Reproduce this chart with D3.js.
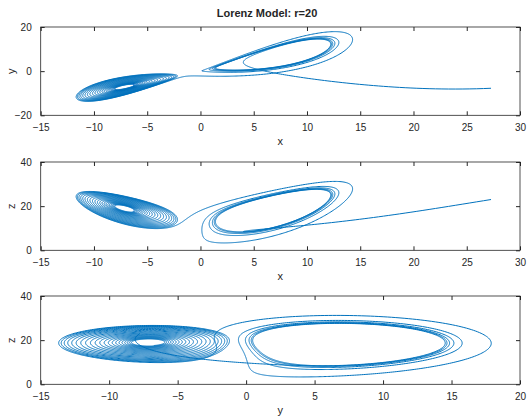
<!DOCTYPE html>
<html lang="en">
	<head>
		<meta charset="utf-8">
		<title> Lorenz Model </title>
		<script type="text/javascript" src="https://cdn.jsdelivr.net/npm/d3@7"></script>
		<style type="text/css">
			body { margin: 0; background: #fff; }
			text { font-family: "Liberation Sans", Arial, sans-serif; fill: #262626; }
		</style>
	</head>
	<body>
		<div id="chart"></div>
		<script type="text/javascript">

			// Model parameters read from the title (r) and the usual sigma, b
			var sigma = [10];
			var rho = [20];
			var beta = [8 / 3];
			var startState = [27.28, -7.75, 23];
			var timeSpan = [0, 22];
			var stepSize = [0.002];

			// tick labels
			var xTicks = [-15, -10, -5, 0, 5, 10, 15, 20, 25, 30];
			var yTicks3 = [-15, -10, -5, 0, 5, 10, 15, 20];
			var yTicks1 = [-20, 0, 20];
			var zTicks = [0, 20, 40];

			var w = 527;
			var h = 418;

			// the series is the solution of the Lorenz model named in the title (RK4)
			function deriv(s) {
				return [
					sigma[0] * (s[1] - s[0]),
					s[0] * (rho[0] - s[2]) - s[1],
					s[0] * s[1] - beta[0] * s[2]
				];
			}
			var traj = [startState.slice()];
			var s = startState.slice();
			var dt = stepSize[0];
			var n = Math.round((timeSpan[1] - timeSpan[0]) / dt);
			for (var i = 0; i < n; i++) {
				var k1 = deriv(s);
				var k2 = deriv(s.map(function(v, j) { return v + dt / 2 * k1[j]; }));
				var k3 = deriv(s.map(function(v, j) { return v + dt / 2 * k2[j]; }));
				var k4 = deriv(s.map(function(v, j) { return v + dt * k3[j]; }));
				s = s.map(function(v, j) { return v + dt / 6 * (k1[j] + 2 * k2[j] + 2 * k3[j] + k4[j]); });
				traj.push(s);
			}

			var svg = d3.select("#chart")
				.append("svg")
				.attr("width", w)
				.attr("height", h);

			svg.append("text")
				.attr("x", 267)
				.attr("y", 17)
				.attr("text-anchor", "middle")
				.attr("font-size", "11px")
				.attr("font-weight", "bold")
				.text("Lorenz Model: r=20");

			var panels = [
				{ top: 27, hx: 0, hy: 1, xd: [-15, 30], yd: [-20, 20], xt: xTicks, yt: yTicks1, xl: "x", yl: "y" },
				{ top: 162, hx: 0, hy: 2, xd: [-15, 30], yd: [0, 40], xt: xTicks, yt: zTicks, xl: "x", yl: "z" },
				{ top: 296, hx: 1, hy: 2, xd: [-15, 20], yd: [0, 40], xt: yTicks3, yt: zTicks, xl: "y", yl: "z" }
			];
			var left = 40.7, right = 520, ph = 88.3;

			panels.forEach(function(p, k) {
				var xScale = d3.scaleLinear().domain(p.xd).range([left, right]);
				var yScale = d3.scaleLinear().domain(p.yd).range([p.top + ph, p.top]);
				var g = svg.append("g");

				g.append("clipPath").attr("id", "clip" + k)
					.append("rect")
					.attr("x", left).attr("y", p.top)
					.attr("width", right - left).attr("height", ph);

				var line = d3.line()
					.x(function(d) { return xScale(d[p.hx]); })
					.y(function(d) { return yScale(d[p.hy]); });

				g.append("path")
					.datum(traj)
					.attr("clip-path", "url(#clip" + k + ")")
					.attr("fill", "none")
					.attr("stroke", "#0072BD")
					.attr("stroke-width", 1)
					.attr("d", line);

				// axes, ticks inside, box on
				var axisStyle = function(sel) {
					sel.select(".domain").remove();
					sel.selectAll("line").attr("stroke", "#262626");
					sel.selectAll("text").attr("font-size", "10px").attr("fill", "#262626")
						.style("font-family", "'Liberation Sans', Arial, sans-serif");
				};
				g.append("g").attr("transform", "translate(0," + (p.top + ph) + ")")
					.call(d3.axisBottom(xScale).tickValues(p.xt).tickSizeInner(-4).tickSizeOuter(0).tickPadding(9))
					.call(axisStyle);
				g.append("g").attr("transform", "translate(0," + p.top + ")")
					.call(d3.axisTop(xScale).tickValues(p.xt).tickSizeInner(-4).tickSizeOuter(0).tickFormat(""))
					.call(axisStyle);
				g.append("g").attr("transform", "translate(" + left + ",0)")
					.call(d3.axisLeft(yScale).tickValues(p.yt).tickSizeInner(-4).tickSizeOuter(0).tickPadding(9))
					.call(axisStyle);
				g.append("g").attr("transform", "translate(" + right + ",0)")
					.call(d3.axisRight(yScale).tickValues(p.yt).tickSizeInner(-4).tickSizeOuter(0).tickFormat(""))
					.call(axisStyle);
				g.append("rect")
					.attr("x", left).attr("y", p.top)
					.attr("width", right - left).attr("height", ph)
					.attr("fill", "none")
					.attr("stroke", "#262626")
					.attr("stroke-width", 0.8);

				g.append("text")
					.attr("x", (left + right) / 2)
					.attr("y", p.top + ph + 30)
					.attr("text-anchor", "middle")
					.attr("font-size", "11px")
					.text(p.xl);
				g.append("text")
					.attr("transform", "translate(15," + (p.top + ph / 2) + ") rotate(-90)")
					.attr("text-anchor", "middle")
					.attr("font-size", "11px")
					.text(p.yl);
			});

		</script>
	</body>
</html>
